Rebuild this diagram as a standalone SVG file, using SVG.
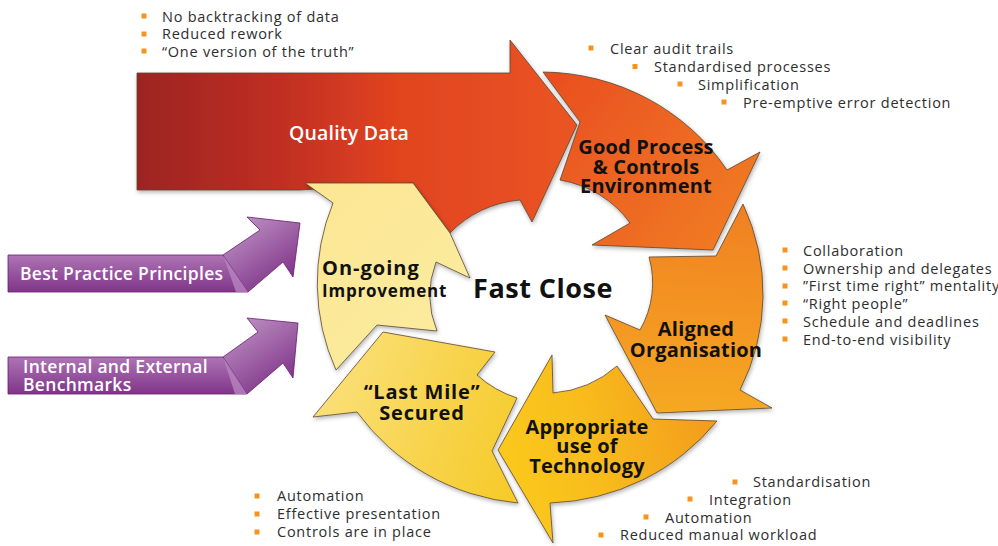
<svg xmlns="http://www.w3.org/2000/svg" width="998" height="546" viewBox="0 0 998 546">
  <defs>
    <style>
      .seg { stroke: #5a4630; stroke-width: 0.8; stroke-linejoin: miter; filter: url(#shadow); }
      .lbl { font-family: "Open Sans", "Noto Sans", sans-serif; font-weight: 700; fill: #111; text-anchor: middle; font-size: 20px; letter-spacing: 0.2px; }
      .bul { font-family: "Open Sans", "Noto Sans", sans-serif; font-size: 14.5px; letter-spacing: 0.75px; fill: #2e2e2e; }
      .sq { fill: #f7941d; }
      .plbl { font-family: "Open Sans", "Noto Sans", sans-serif; font-weight: 600; font-size: 17.5px; letter-spacing: 0.3px; fill: #ffffff; }
      .parrow { stroke: #6a1c72; stroke-width: 0.8; }
    </style>
    <filter id="shadow" x="-10%" y="-10%" width="120%" height="120%">
      <feDropShadow dx="1" dy="2" stdDeviation="2" flood-color="#000" flood-opacity="0.3"/>
    </filter>
    <linearGradient id="gRed" gradientUnits="userSpaceOnUse" x1="137" y1="0" x2="560" y2="0">
      <stop offset="0" stop-color="#9c2420"/>
      <stop offset="0.35" stop-color="#c12f22"/>
      <stop offset="0.6" stop-color="#e0431f"/>
      <stop offset="1" stop-color="#ea5323"/>
    </linearGradient>
    <linearGradient id="gGood" gradientUnits="userSpaceOnUse" x1="550" y1="80" x2="760" y2="240">
      <stop offset="0" stop-color="#e94f1f"/>
      <stop offset="1" stop-color="#f17f24"/>
    </linearGradient>
    <linearGradient id="gAlign" gradientUnits="userSpaceOnUse" x1="700" y1="200" x2="690" y2="420">
      <stop offset="0" stop-color="#f07f22"/>
      <stop offset="1" stop-color="#f6aa24"/>
    </linearGradient>
    <linearGradient id="gTech" gradientUnits="userSpaceOnUse" x1="720" y1="420" x2="500" y2="470">
      <stop offset="0" stop-color="#f39a1f"/>
      <stop offset="0.6" stop-color="#f8bd1c"/>
      <stop offset="1" stop-color="#fbc91e"/>
    </linearGradient>
    <linearGradient id="gMile" gradientUnits="userSpaceOnUse" x1="520" y1="450" x2="320" y2="380">
      <stop offset="0" stop-color="#f6cb2c"/>
      <stop offset="1" stop-color="#fae07a"/>
    </linearGradient>
    <linearGradient id="gOn" gradientUnits="userSpaceOnUse" x1="320" y1="180" x2="470" y2="330">
      <stop offset="0" stop-color="#fbe693"/>
      <stop offset="1" stop-color="#fcec9f"/>
    </linearGradient>
    <linearGradient id="gP1" gradientUnits="userSpaceOnUse" x1="0" y1="255" x2="0" y2="293">
      <stop offset="0" stop-color="#ad74b4"/>
      <stop offset="1" stop-color="#7f3388"/>
    </linearGradient>
    <linearGradient id="gP1h" gradientUnits="userSpaceOnUse" x1="250" y1="220" x2="295" y2="285">
      <stop offset="0" stop-color="#b889be"/>
      <stop offset="1" stop-color="#7a2a83"/>
    </linearGradient>
    <linearGradient id="gP2" gradientUnits="userSpaceOnUse" x1="0" y1="357" x2="0" y2="395">
      <stop offset="0" stop-color="#ad74b4"/>
      <stop offset="1" stop-color="#7f3388"/>
    </linearGradient>
    <linearGradient id="gP2h" gradientUnits="userSpaceOnUse" x1="250" y1="320" x2="295" y2="388">
      <stop offset="0" stop-color="#b889be"/>
      <stop offset="1" stop-color="#7a2a83"/>
    </linearGradient>
  </defs>

  <rect width="998" height="546" fill="#ffffff"/>

  <!-- cycle arrows -->
  <g id="connectors">
    <!-- Quality Data: straight body feeding the top of the ring -->
    <g id="quality-data">
      <path class="seg" fill="url(#gRed)" d="M137,73 L510,73 L510,40 L577,125 L532,222 L520,200 A107 100 0 0 0 450,233 L413,183 L300,190 L137,190 Z"/>
      <text x="349" y="140" class="lbl" style="fill:#ffffff;font-weight:600;font-size:19.5px">Quality Data</text>
    </g>

    <g id="good-process">
      <path class="seg" fill="url(#gGood)" d="M543,72 A223 217 0 0 1 727,170 L760,152 L713,250 L592,245 L630,223 A107 100 0 0 0 560,180 L580,122 Z"/>
      <text class="lbl"><tspan x="646" y="154">Good Process</tspan><tspan x="646" y="174">&amp; Controls</tspan><tspan x="646" y="193">Environment</tspan></text>
    </g>

    <g id="aligned-organisation">
      <path class="seg" fill="url(#gAlign)" d="M743,204 A223 217 0 0 1 740,390 L772,408 L657,413 L605,315 L640,330 A107 100 0 0 0 649,257 L716,256 Z"/>
      <text class="lbl"><tspan x="696" y="336">Aligned</tspan><tspan x="696" y="357">Organisation</tspan></text>
    </g>

    <g id="appropriate-technology">
      <path class="seg" fill="url(#gTech)" d="M717,421 A223 217 0 0 1 550,503 L553,543 L498,450 L552,355 L553,393 A107 100 0 0 0 617,366 L653,419 Z"/>
      <text class="lbl"><tspan x="587" y="434">Appropriate</tspan><tspan x="587" y="453">use of</tspan><tspan x="587" y="473">Technology</tspan></text>
    </g>

    <g id="last-mile">
      <path class="seg" fill="url(#gMile)" d="M518,503 A223 217 0 0 1 357,412 L313,417 L383,332 L495,352 L477,375 A107 100 0 0 0 517,398 L492,451 Z"/>
      <text class="lbl" style="letter-spacing:0.8px"><tspan x="422" y="399">“Last Mile”</tspan><tspan x="422" y="420">Secured</tspan></text>
    </g>

    <g id="ongoing-improvement">
      <path class="seg" fill="url(#gOn)" d="M336,370 A223 217 0 0 1 333,203 L305,183 L413,183 L450,233 L470,278 L436,262 A107 100 0 0 0 437,331 L377,325 Z"/>
      <text class="lbl" style="text-anchor:start"><tspan x="322" y="275" style="font-size:20px;letter-spacing:1px">On-going</tspan><tspan x="322" y="297" style="font-size:17px;letter-spacing:0.8px">Improvement</tspan></text>
    </g>
  </g>

  <g id="fast-close">
    <text x="543" y="298" class="lbl" style="font-size:27px;letter-spacing:0.5px">Fast Close</text>
  </g>

  <!-- purple input arrows -->
  <g id="best-practice">
    <path class="parrow" fill="url(#gP1)" d="M8,255 L223,255 L248,292 L8,292 Z"/>
    <path class="parrow" fill="url(#gP1h)" d="M223,255 L260,230 L247,217 L300,223 L293,277 L283,262 L248,292 Z"/>
    <path fill="#b884bf" d="M223,255 L248,292 L236,292 Z" opacity="0.8"/>
    <text x="20" y="280" class="plbl">Best Practice Principles</text>
  </g>

  <g id="benchmarks">
    <path class="parrow" fill="url(#gP2)" d="M8,357 L223,357 L247,394 L8,394 Z"/>
    <path class="parrow" fill="url(#gP2h)" d="M223,357 L258,332 L247,318 L298,323 L293,378 L283,363 L247,394 Z"/>
    <path fill="#b884bf" d="M223,357 L247,394 L235,394 Z" opacity="0.8"/>
    <text class="plbl"><tspan x="23" y="373">Internal and External</tspan><tspan x="23" y="391">Benchmarks</tspan></text>
  </g>

  <!-- bullet lists -->
  <g id="notes-quality">
    <rect class="sq" x="141.5" y="13.5" width="5" height="5"/>
    <rect class="sq" x="141.5" y="31.5" width="5" height="5"/>
    <rect class="sq" x="141.5" y="48.5" width="5" height="5"/>
    <text class="bul" x="162" y="21.5">No backtracking of data</text>
    <text class="bul" x="162" y="39">Reduced rework</text>
    <text class="bul" x="162" y="56.5">“One version of the truth”</text>
  </g>

  <g id="notes-process">
    <rect class="sq" x="588.5" y="45.5" width="5" height="5"/>
    <rect class="sq" x="632.5" y="64" width="5" height="5"/>
    <rect class="sq" x="677.5" y="81.5" width="5" height="5"/>
    <rect class="sq" x="721.5" y="99.5" width="5" height="5"/>
    <text class="bul" x="610" y="53.5">Clear audit trails</text>
    <text class="bul" x="654" y="72">Standardised processes</text>
    <text class="bul" x="698" y="89.5">Simplification</text>
    <text class="bul" x="743" y="107.5">Pre-emptive error detection</text>
  </g>

  <g id="notes-organisation">
    <rect class="sq" x="782.5" y="247.5" width="5" height="5"/>
    <rect class="sq" x="782.5" y="265.5" width="5" height="5"/>
    <rect class="sq" x="782.5" y="283.5" width="5" height="5"/>
    <rect class="sq" x="782.5" y="300.5" width="5" height="5"/>
    <rect class="sq" x="782.5" y="318.5" width="5" height="5"/>
    <rect class="sq" x="782.5" y="336.5" width="5" height="5"/>
    <text class="bul" x="803" y="255.5">Collaboration</text>
    <text class="bul" x="803" y="273.5">Ownership and delegates</text>
    <text class="bul" x="803" y="291">”First time right” mentality</text>
    <text class="bul" x="803" y="308.5">“Right people”</text>
    <text class="bul" x="803" y="326.5">Schedule and deadlines</text>
    <text class="bul" x="803" y="344.5">End-to-end visibility</text>
  </g>

  <g id="notes-technology">
    <rect class="sq" x="732.5" y="479.5" width="5" height="5"/>
    <rect class="sq" x="687.5" y="496.5" width="5" height="5"/>
    <rect class="sq" x="643.5" y="514.5" width="5" height="5"/>
    <rect class="sq" x="598.5" y="532.5" width="5" height="5"/>
    <text class="bul" x="753" y="487">Standardisation</text>
    <text class="bul" x="709" y="504.5">Integration</text>
    <text class="bul" x="665" y="522.5">Automation</text>
    <text class="bul" x="620" y="540">Reduced manual workload</text>
  </g>

  <g id="notes-last-mile">
    <rect class="sq" x="254.5" y="493.5" width="5" height="5"/>
    <rect class="sq" x="254.5" y="511.5" width="5" height="5"/>
    <rect class="sq" x="254.5" y="529.5" width="5" height="5"/>
    <text class="bul" x="277" y="501">Automation</text>
    <text class="bul" x="277" y="519">Effective presentation</text>
    <text class="bul" x="277" y="537">Controls are in place</text>
  </g>
</svg>
